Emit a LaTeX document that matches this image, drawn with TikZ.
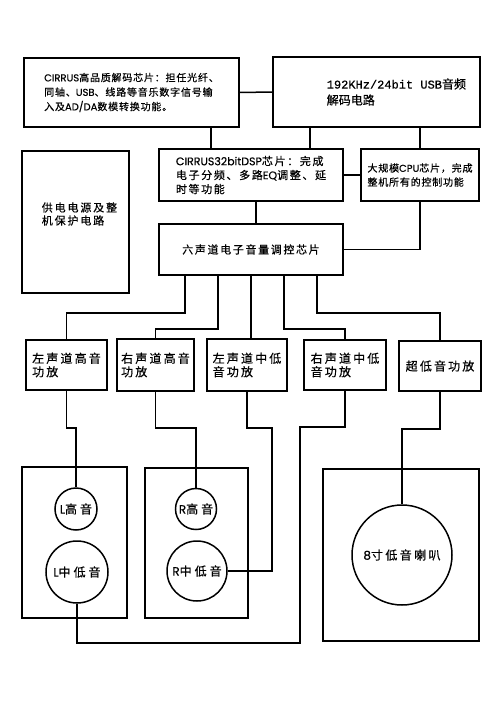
\documentclass[tikz,border=0pt]{standalone}
\usepackage{fontspec}
\setmainfont[FakeBold=0.5]{Noto Sans CJK SC}
\newfontfamily\latfont[FakeBold=0.4]{Poppins}
\newfontfamily\usbfont[FakeBold=0.6]{Liberation Mono}
\usetikzlibrary{calc}
\newcommand{\gt}[1]{{\latfont #1}}
\tikzset{
  blk/.style={
    draw,
    line width=1.5pt,
    inner sep=0pt,
    align=left
  },
  sz/.style 2 args={
    minimum width=#1pt,
    minimum height=#2pt
  },
  spk/.style={
    circle,
    draw,
    line width=1.5pt,
    inner sep=0pt,
    minimum size=#1pt
  },
  ts/.style n args={3}{
    font=\fontsize{#1}{#2}\selectfont\addfontfeature{LetterSpace=#3}
  },
  wire/.style={
    line width=1.5pt
  }
}

\begin{document}
\begin{tikzpicture}[x=1pt,y=-1pt]
    \fill[white] (0,0) rectangle (500,708);
    \useasboundingbox (0,0) rectangle (500,708);
    % decoder / dsp / control chips
    \node[blk, sz={215}{69}, ts={10}{14.5}{8}] (dec) at (131.5,92.5) {\gt{CIRRUS}高品质解码芯片：担任光纤、\\同轴、\gt{USB}、线路等音乐数字信号输\\入及\gt{AD/DA}数模转换功能。};
    \node[blk, sz={207}{70}] (usb) at (376.5,92) {};
    \node[anchor=west, align=left, ts={12}{16}{0}] (usbtxt) at ([xshift=51]usb.west) {{\usbfont 192KHz/24bit USB}音频\\解码电路};
    \node[blk, sz={107}{142}] (pwr) at (75.5,222) {};
    \node[anchor=west, align=left, ts={11}{13}{17}] (pwrtxt) at ([shift={(17,-8)}]pwr.west) {供电电源及整\\机保护电路};
    \node[blk, sz={184}{52}, ts={11}{14}{15}] (dsp) at (251,175) {\gt{CIRRUS32bitDSP}芯片：完成\\电子分频、多路\gt{EQ}调整、延\\时等功能};
    \node[blk, sz={118}{52}, ts={10}{14}{8}] (cpu) at (420,175) {大规模\gt{CPU}芯片，完成\\整机所有的控制功能};
    \node[blk, sz={184}{51}, ts={11}{14}{15}] (vol) at (251,249.5) {六声道电子音量调控芯片};
    % power amps
    \node[blk, sz={81}{50}, ts={12}{13.5}{18}] (ampA) at (66.5,365) {左声道高音\\功放};
    \node[blk, sz={77}{52}, ts={12}{13.5}{18}] (ampB) at (155.5,365) {右声道高音\\功放};
    \node[blk, sz={80}{52}, ts={12}{13.5}{18}] (ampC) at (247,365) {左声道中低\\音功放};
    \node[blk, sz={82}{50}, ts={12}{13.5}{18}] (ampD) at (345,365) {右声道中低\\音功放};
    \node[blk, sz={82}{50}, ts={12}{13.5}{18}] (ampE) at (440,366) {超低音功放};
    % cabinets and drivers
    \node[blk, sz={105}{151}] (cabL) at (74.5,542.5) {};
    \node[blk, sz={103}{150}] (cabR) at (196.5,543) {};
    \node[blk, sz={156}{172}] (cabS) at (401,555) {};
    \node[spk=42, ts={12}{14}{25}] (lh) at (76,509) {\gt{L}高音};
    \node[spk=62, ts={12}{14}{25}] (lm) at (77,572) {\gt{L}中低音};
    \node[spk=41, ts={12}{14}{25}] (rh) at (196,509) {\gt{R}高音};
    \node[spk=60, ts={12}{14}{25}] (rm) at (197,571) {\gt{R}中低音};
    \node[spk=100, ts={12}{14}{20}] (sub) at (402,555) {\gt{8}寸低音喇叭};
    \coordinate (t1) at (211,0);
    \coordinate (t2) at (310,0);
    \coordinate (cR) at (272,0);
    \coordinate (cD) at (300,643);
    % chip links
    \draw[wire] (dec.east) -- (usb.west);
    \draw[wire] (dec.south -| t1) -- (dsp.north -| t1);
    \draw[wire] (usb.south -| t2) -- (dsp.north -| t2);
    \draw[wire] (usb.south -| cpu.north) -- (cpu.north);
    \draw[wire] (dsp.east) -- (cpu.west);
    \draw[wire] ([xshift=5]dsp.south) -- ([xshift=5]vol.north);
    \draw[wire] (cpu.south) |- (vol.east);
    % volume chip to amps
    \draw[wire] ([xshift=-66]vol.south) -- ++(0,37) -| (ampA.north);
    \draw[wire] ([xshift=-33]vol.south) -- ++(0,53) -| (ampB.north);
    \draw[wire] (vol.south) -- (vol.south |- ampC.north);
    \draw[wire] ([xshift=33]vol.south) -- ++(0,53) -| (ampD.north);
    \draw[wire] ([xshift=66]vol.south) -- ++(0,37) -| (ampE.north);
    % amps to drivers
    \draw[wire] (ampA.south) -- ++(0,37) -| (lh.north);
    \draw[wire] (ampB.south) -- ++(0,36) -| (rh.north);
    \draw[wire] (ampC.south) -- ++(0,36) -| (rm.east -| cR) -- (rm.east);
    \draw[wire] (ampD.south) -- ++(0,36) -| (cD) -| (lm.south);
    \draw[wire] (ampE.south) -- ++(0,37) -| (sub.north);
\end{tikzpicture}
\end{document}
